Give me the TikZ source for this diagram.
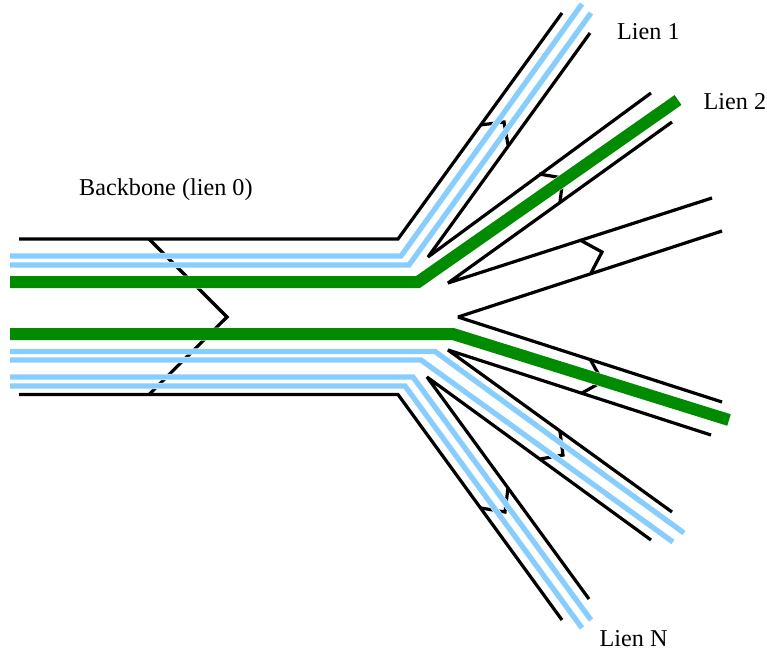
\documentclass[tikz,border=0pt]{standalone}
\usepackage{fontspec}
\setmainfont{Liberation Serif}
\tikzset{
  wall/.style={draw=black,line width=3.2pt,line join=miter,miter limit=2},
  mark line/.style={draw=black,line width=3.2pt,line join=miter},
  blue fibre/.style={draw=skyline,line width=5.3pt,preaction={draw=white,line width=6.3pt}},
  green fibre/.style={draw=fibregreen,line width=12pt,preaction={draw=white,line width=13pt}},
  label text/.style={inner sep=0pt,font=\fontsize{24.2}{27}\selectfont,text=black}
}
\definecolor{skyline}{RGB}{135,206,255}
\definecolor{fibregreen}{RGB}{0,139,0}
\begin{document}
\begin{tikzpicture}[x=1pt,y=-1pt]
\useasboundingbox (0,0) rectangle (767,654);
% cut marks
\draw[mark line] (149,239) -- (227,317) -- (149,394.5);
\draw[mark line] (480,125) -- (504,122) -- (508,145);
\draw[mark line] (539,174) -- (563,178) -- (560,202);
\draw[mark line] (580,240) -- (602,252) -- (591,273);
\draw[mark line] (590,359) -- (602.6,381.5) -- (582,393);
\draw[mark line] (560,432) -- (563,455) -- (540,459);
\draw[mark line] (508,488) -- (505,512) -- (481,508);
% fibres (drawn first where they pass under nothing, casings cut the marks only)
\draw[blue fibre] (10,256) -- (401,256) -- (582,4);
\draw[blue fibre] (10,265) -- (409,265) -- (591,13);
\draw[green fibre] (10,282) -- (418,282) -- (678,100);
\draw[green fibre] (10,334) -- (453,334) -- (729,420);
\draw[blue fibre] (10,351.5) -- (435,351.5) -- (684,533);
\draw[blue fibre] (10,360) -- (421,360) -- (673,542);
\draw[blue fibre] (10,377) -- (413,377) -- (591,620);
\draw[blue fibre] (10,386) -- (405,386) -- (582,628);
% walls
\draw[wall] (19,239) -- (398,239) -- (562,13);
\draw[wall] (590,33) -- (428,257) -- (651,93);
\draw[wall] (672,122) -- (448,283) -- (712,198);
\draw[wall] (722,231) -- (458,317) -- (722,402);
\draw[wall] (711,435) -- (448,350) -- (672,512);
\draw[wall] (651,540) -- (427,377) -- (589,599);
\draw[wall] (19,394.5) -- (398,394.5) -- (562,620);
% labels
\node[label text,anchor=base west] (backbone) at (79,195) {Backbone (lien 0)};
\node[label text,anchor=base west] (lienone) at (617,39) {Lien 1};
\node[label text,anchor=base west] (lientwo) at (703.5,109) {Lien 2};
\node[label text,anchor=base west] (lienn) at (599.5,646) {Lien N};
\end{tikzpicture}
\end{document}
